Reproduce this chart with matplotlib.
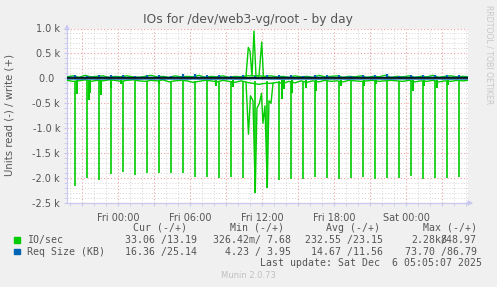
import matplotlib
matplotlib.use("Agg")
import matplotlib.pyplot as plt
from matplotlib.ticker import MultipleLocator, FuncFormatter
import numpy as np

# hours relative to Fri 00:00, values in k (thousands)
base_hours = np.arange(-4.25, 29.26, 0.5)
read_base = [-0.04, -0.06, -0.05, -0.03, -0.06, -0.04, -0.05, -0.03, -0.04, -0.06,
             -0.04, -0.03, -0.05, -0.06, -0.04, -0.05, -0.03, -0.07, -0.05, -0.04,
             -0.05, -0.08, -0.06, -0.04, -0.05, -0.07, -0.04, -0.06, -0.08, -0.05,
             -0.08, -0.10, -0.12, -0.10, -0.10, -0.08, -0.10, -0.06, -0.09, -0.05,
             -0.08, -0.05, -0.07, -0.04, -0.06, -0.05, -0.07, -0.04, -0.05, -0.06,
             -0.05, -0.04, -0.06, -0.05, -0.04, -0.05, -0.06, -0.04, -0.07, -0.05,
             -0.06, -0.04, -0.07, -0.05, -0.06, -0.04, -0.05, -0.04]
write_base = [0.03, 0.05, 0.02, 0.06, 0.03, 0.04, 0.05, 0.02, 0.04, 0.03,
              0.05, 0.03, 0.02, 0.04, 0.06, 0.03, 0.04, 0.02, 0.05, 0.03,
              0.04, 0.03, 0.06, 0.02, 0.04, 0.03, 0.05, 0.02, 0.04, 0.03,
              0.05, 0.05, 0.05, 0.04, 0.05, 0.03, 0.04, 0.02, 0.05, 0.03,
              0.04, 0.02, 0.06, 0.03, 0.04, 0.05, 0.02, 0.04, 0.03, 0.05,
              0.02, 0.04, 0.03, 0.06, 0.02, 0.04, 0.03, 0.05, 0.02, 0.04,
              0.03, 0.06, 0.02, 0.04, 0.05, 0.03, 0.04, 0.03]
req_read = [-0.016, -0.015, -0.018, -0.014, -0.016, -0.017, -0.015, -0.016, -0.014, -0.017,
            -0.015, -0.016, -0.018, -0.015, -0.016, -0.014, -0.017, -0.015, -0.016, -0.015,
            -0.017, -0.014, -0.016, -0.015, -0.018, -0.016, -0.015, -0.014, -0.016, -0.017,
            -0.012, -0.010, -0.011, -0.013, -0.015, -0.016, -0.017, -0.015, -0.016, -0.014,
            -0.016, -0.015, -0.017, -0.016, -0.015, -0.014, -0.016, -0.017, -0.015, -0.016,
            -0.014, -0.016, -0.015, -0.017, -0.016, -0.015, -0.014, -0.016, -0.015, -0.017,
            -0.016, -0.015, -0.014, -0.016, -0.017, -0.015, -0.016, -0.016]
req_write = [0.020, 0.025, 0.018, 0.022, 0.024, 0.019, 0.023, 0.021, 0.025, 0.020,
             0.022, 0.018, 0.024, 0.021, 0.023, 0.020, 0.025, 0.019, 0.022, 0.024,
             0.020, 0.023, 0.021, 0.025, 0.019, 0.022, 0.024, 0.020, 0.023, 0.021,
             0.012, 0.010, 0.011, 0.014, 0.020, 0.024, 0.021, 0.023, 0.019, 0.022,
             0.025, 0.020, 0.023, 0.021, 0.024, 0.019, 0.022, 0.025, 0.020, 0.023,
             0.021, 0.024, 0.019, 0.022, 0.025, 0.020, 0.023, 0.021, 0.024, 0.019,
             0.022, 0.025, 0.020, 0.023, 0.021, 0.024, 0.022, 0.025]

# hourly read bursts
spike_hours = np.arange(-3.56, 28.5, 1.0)
spike_read = [-2.15, -2.00, -2.04, -1.92, -1.88, -1.93, -1.90, -1.90, -1.90, -1.90,
              -1.97, -1.97, -2.00, -1.97, -2.00, -2.29, -2.19, -2.04, -2.02, -2.02,
              -1.98, -2.00, -2.02, -2.00, -1.98, -2.01, -1.99, -2.00, -1.96, -2.02,
              -1.99, -1.99, -1.97]
spike_req = [0.07, 0.04, 0.06, 0.07, 0.06, 0.05, 0.06, 0.07, 0.05, 0.08,
             0.08, 0.06, 0.07, 0.05, 0.06, 0.04, 0.06, 0.07, 0.06, 0.05,
             0.06, 0.07, 0.06, 0.05, 0.07, 0.06, 0.08, 0.05, 0.06, 0.07,
             0.06, 0.07, 0.06]

# smaller read dips
dip_hours = [-3.42, -2.42, -2.30, -1.42, -0.60, 0.25, 3.40, 8.17, 9.58, 13.67,
             13.83, 14.52, 15.64, 16.52, 18.56, 20.50, 21.54, 24.58, 25.50, 26.58, 27.50]
dip_read = [-0.32, -0.43, -0.30, -0.33, -0.20, -0.12, -0.12, -0.16, -0.18, -0.42,
            -0.22, -0.30, -0.20, -0.25, -0.15, -0.15, -0.12, -0.26, -0.15, -0.20, -0.13]

# midday burst
burst_read_hours = [10.67, 10.875, 11.04, 11.25, 11.44, 11.58, 11.79, 11.96, 12.08,
                    12.25, 12.44, 12.58, 12.75, 12.92]
burst_read = [-0.08, -1.12, -0.35, -0.45, -2.29, -0.60, -0.50, -0.30, -0.90,
              -0.55, -2.19, -0.45, -0.50, -0.10]
burst_write_hours = [10.67, 10.86, 11.0, 11.17, 11.33, 11.5, 11.75, 11.98, 12.12]
burst_write = [0.04, 0.62, 0.55, 0.05, 0.95, 0.05, 0.05, 0.73, 0.03]

legend_rows = [
    ("IO/sec", "#00cc00", "33.06 /13.19", "326.42m/ 7.68", "232.55 /23.15", "2.28k/", "848.97"),
    ("Req Size (KB)", "#0066b3", "16.36 /25.14", "4.23 / 3.95", "14.67 /11.56", "", "73.70 /86.79"),
]

GREEN = "#00cc00"
BLUE = "#0066b3"
AXC = "#c8c8f0"
TXT = "#555555"

fig = plt.figure(figsize=(4.97, 2.87), dpi=100, facecolor="#f0f0f0")
W, H = 497, 287
ax = fig.add_axes([67 / W, 1 - 203 / H, (468 - 67) / W, (203 - 28.5) / H])
ax.set_facecolor("white")
ax.set_xlim(-4.25, 29.17)
ax.set_ylim(-2.5, 1.0)

ax.xaxis.set_major_locator(MultipleLocator(3))
ax.xaxis.set_minor_locator(MultipleLocator(1))
ax.yaxis.set_major_locator(MultipleLocator(0.5))
ax.yaxis.set_minor_locator(MultipleLocator(0.1))
ax.grid(which="minor", color="#d4d4d4", linestyle=(0, (1, 2)), linewidth=0.7)
ax.grid(which="major", color="#f0a0a0", linestyle=(0, (1, 2)), linewidth=0.8)
ax.set_axisbelow(True)


def xfmt(h, pos):
    h = int(round(h))
    if h % 6:
        return ""
    day = ["Thu", "Fri", "Sat", "Sun"][h // 24 + 1]
    return f"{day} {h % 24:02d}:00"


def yfmt(v, pos):
    if abs(v) < 1e-9:
        return "0.0  "
    return f"{v:.1f} k"


ax.xaxis.set_major_formatter(FuncFormatter(xfmt))
ax.yaxis.set_major_formatter(FuncFormatter(yfmt))
ax.tick_params(axis="both", which="both", length=2, color=AXC, labelcolor=TXT,
               labelsize=7, pad=3)
ax.tick_params(axis="x", which="major", pad=5)

for s in ["top", "right"]:
    ax.spines[s].set_visible(False)
for s in ["left", "bottom"]:
    ax.spines[s].set_color(AXC)
    ax.spines[s].set_linewidth(0.9)

# IO/sec
ax.plot(base_hours, read_base, color=GREEN, lw=1.0, zorder=3)
ax.plot(base_hours, write_base, color=GREEN, lw=1.0, zorder=3)
ax.vlines(spike_hours, -0.05, spike_read, color=GREEN, lw=1.2, zorder=3)
ax.vlines(dip_hours, -0.03, dip_read, color=GREEN, lw=1.5, zorder=3)
ax.plot(burst_read_hours, burst_read, color=GREEN, lw=1.0, zorder=3)
ax.plot(burst_write_hours, burst_write, color=GREEN, lw=1.0, zorder=3)
# Req Size
ax.plot(base_hours, req_read, color=BLUE, lw=0.8, zorder=4)
ax.plot(base_hours, req_write, color=BLUE, lw=0.8, zorder=4)
ax.vlines(spike_hours, 0.0, spike_req, color=BLUE, lw=1.6, zorder=4)
ax.axhline(0, color="black", lw=1.1, zorder=5)

# axis arrows
ax.annotate("", xy=(0, 1.04), xytext=(0, 0.98), xycoords="axes fraction",
            arrowprops=dict(arrowstyle="-|>", color=AXC, lw=0.9, mutation_scale=7))
ax.annotate("", xy=(1.02, 0), xytext=(0.99, 0), xycoords="axes fraction",
            arrowprops=dict(arrowstyle="-|>", color=AXC, lw=0.9, mutation_scale=7))

fig.text(248 / W, 1 - 19 / H, "IOs for /dev/web3-vg/root - by day", ha="center",
         va="center", fontsize=8.8, color=TXT)
fig.text(10 / W, 1 - 115 / H, "Units read (-) / write (+)", rotation=90,
         ha="center", va="center", fontsize=7.3, color=TXT)
fig.text(489 / W, 1 - 5 / H, "RRDTOOL / TOBI OETIKER", rotation=270, ha="center",
         va="top", fontsize=5.6, color="#c8c8c8")

mono = dict(family="DejaVu Sans Mono", fontsize=7.1, color=TXT, va="center")
hy = 1 - 227.7 / H
for txt, xe in [("Cur (-/+)", 186.7), ("Min (-/+)", 284), ("Avg (-/+)", 380),
                ("Max (-/+)", 476.7)]:
    fig.text(xe / W, hy, txt, ha="right", **mono)

for i, (name, col, cur, mn, avg, mx_a, mx_b) in enumerate(legend_rows):
    y = 240 + 11.7 * i
    fig.patches.append(plt.Rectangle((14 / W, 1 - (y + 2.6) / H), 5.5 / W, 5.5 / H,
                                     transform=fig.transFigure, color=col))
    fig.text(26.7 / W, 1 - y / H, name, ha="left", **mono)
    fig.text(196.7 / W, 1 - y / H, cur, ha="right", **mono)
    fig.text(290.7 / W, 1 - y / H, mn, ha="right", **mono)
    fig.text(383.3 / W, 1 - y / H, avg, ha="right", **mono)
    if mx_a:
        # munin's max column overflows here, so the two values overlap by one glyph
        fig.text(446.9 / W, 1 - y / H, mx_a, ha="right", **mono)
    fig.text(476.7 / W, 1 - y / H, mx_b, ha="right", **mono)

fig.text(482.3 / W, 1 - 263.3 / H, "Last update: Sat Dec  6 05:05:07 2025",
         ha="right", **mono)
fig.text(248 / W, 1 - 276 / H, "Munin 2.0.73", ha="center", va="center",
         fontsize=6, color="#c0c0c0")

fig.savefig("out.png", dpi=100, facecolor=fig.get_facecolor())
